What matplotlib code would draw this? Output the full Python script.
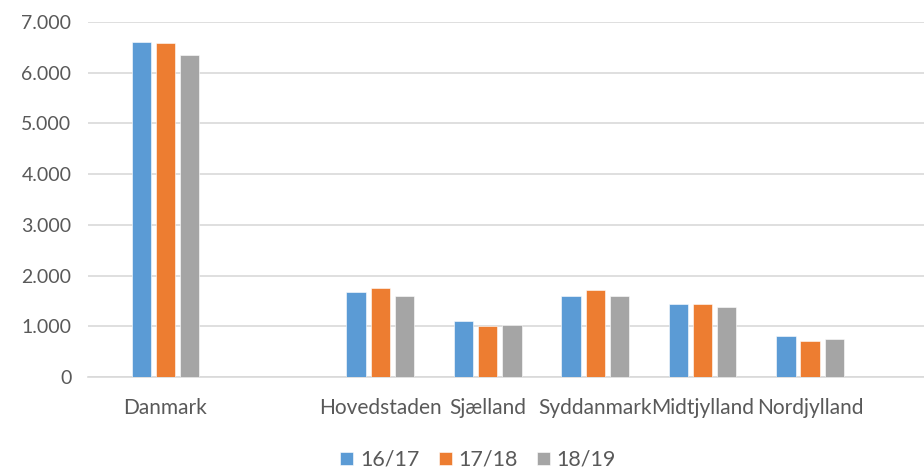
import matplotlib.pyplot as plt
from matplotlib.ticker import FuncFormatter
import numpy as np

# data (blank slot between Danmark and the regions)
categories = ['Danmark', '', 'Hovedstaden', 'Sjælland', 'Syddanmark', 'Midtjylland', 'Nordjylland']
series = ['16/17', '17/18', '18/19']
v_1617 = [6605, np.nan, 1680, 1100, 1606, 1446, 806]
v_1718 = [6585, np.nan, 1746, 1000, 1706, 1446, 706]
v_1819 = [6341, np.nan, 1606, 1026, 1606, 1386, 740]
colors = ['#5B9BD5', '#ED7D31', '#A5A5A5']
yticks = [0, 1000, 2000, 3000, 4000, 5000, 6000, 7000]

plt.rcParams['font.family'] = ['Lato', 'DejaVu Sans']
txt = '#595959'

fig = plt.figure(figsize=(9.24, 4.71), dpi=100)
ax = fig.add_axes([88 / 924, 1 - 377 / 471, 836 / 924, 355 / 471])

x = np.arange(len(categories))
w = 0.18
step = 0.225
for i, (vals, lab) in enumerate(zip([v_1617, v_1718, v_1819], series)):
    ax.bar(x + (i - 1) * step, vals, width=w, color=colors[i], label=lab,
           edgecolor='white', linewidth=0.4, zorder=3)

ax.set_ylim(0, 7000)
ax.set_xlim(-0.72, 7.06)
ax.set_yticks(yticks)
ax.yaxis.set_major_formatter(FuncFormatter(lambda v, p: '{:,.0f}'.format(v).replace(',', '.')))
ax.grid(axis='y', color='#D9D9D9', linewidth=1.2, zorder=0)
ax.set_xticks(x)
ax.set_xticklabels(categories)

for s in ['top', 'right', 'left']:
    ax.spines[s].set_visible(False)
ax.spines['bottom'].set_color('#D9D9D9')
ax.spines['bottom'].set_linewidth(1.2)
ax.tick_params(axis='both', length=0, colors=txt)
ax.tick_params(axis='y', pad=12, labelsize=14)
ax.tick_params(axis='x', pad=15, labelsize=15)

fig.legend(loc='center', bbox_to_anchor=(478 / 924, 1 - 460 / 471), ncol=3, frameon=False,
           fontsize=15.5, labelcolor=txt, handlelength=0.6, handleheight=0.6,
           handletextpad=0.3, columnspacing=0.9)

fig.savefig('out.png', dpi=100)
